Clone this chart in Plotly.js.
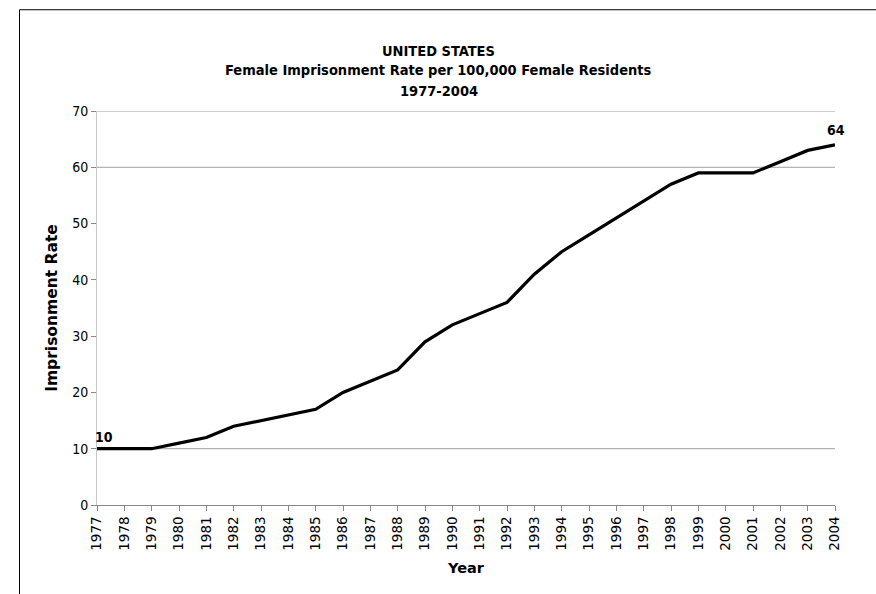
<!DOCTYPE html>
<html>
<head>
<meta charset="utf-8">
<script src="https://cdn.plot.ly/plotly-3.0.1.min.js"></script>
<style>html,body{margin:0;padding:0;background:#fff;}#chart{width:876px;height:594px;}</style>
</head>
<body>
<div id="chart"></div>
<script>
const years = [1977,1978,1979,1980,1981,1982,1983,1984,1985,1986,1987,1988,1989,1990,1991,1992,1993,1994,1995,1996,1997,1998,1999,2000,2001,2002,2003,2004];
const rates = [10,10,10,11,12,14,15,16,17,20,22,24,29,32,34,36,41,45,48,51,54,57,59,59,59,61,63,64];
const yTicks = [0,10,20,30,40,50,60,70];
const gridValues = [10,60,70];
const titleLines = ['UNITED STATES', 'Female Imprisonment Rate per 100,000 Female Residents', '1977-2004'];

const fontC = 'DejaVu Sans Condensed, DejaVu Sans, Verdana, sans-serif';
const fontR = 'DejaVu Sans, Verdana, sans-serif';

const shapes = gridValues.map(v => ({
  type: 'line', xref: 'paper', x0: 0, x1: 1, yref: 'y', y0: v, y1: v,
  line: {color: '#a0a0a0', width: 1}, layer: 'below'
}));
shapes.push({
  type: 'rect', xref: 'paper', yref: 'paper',
  x0: -0.105, x1: 1.1, y0: -0.3, y1: 1.257,
  line: {color: '#000', width: 1}, fillcolor: 'rgba(0,0,0,0)'
});

const n = years.length;
const annotations = [
  {x: years[0], y: rates[0], text: '<b>' + rates[0] + '</b>', showarrow: false,
   xanchor: 'left', yanchor: 'bottom', xshift: -4, yshift: 2, font: {family: fontC, size: 14, color: '#000'}},
  {x: years[n-1], y: rates[n-1], text: '<b>' + rates[n-1] + '</b>', showarrow: false,
   xanchor: 'center', yanchor: 'bottom', xshift: 1, yshift: 5, font: {family: fontC, size: 14, color: '#000'}}
];
const titleY = [1.152, 1.103, 1.050];
titleLines.forEach((t, i) => annotations.push({
  xref: 'paper', yref: 'paper', x: 0.463, y: titleY[i], xanchor: 'center', yanchor: 'middle',
  text: '<b>' + t + '</b>', showarrow: false, font: {family: fontC, size: 14.5, color: '#000'}
}));

Plotly.newPlot('chart', [{
  x: years, y: rates, type: 'scatter', mode: 'lines',
  line: {color: '#000', width: 3.2}, hoverinfo: 'skip'
}], {
  width: 876, height: 594,
  margin: {l: 97, r: 41, t: 111, b: 89},
  paper_bgcolor: '#fff', plot_bgcolor: '#fff',
  showlegend: false,
  xaxis: {
    range: [1977, 2004], tickmode: 'array', tickvals: years, ticktext: years.map(String),
    tickangle: -90, ticks: 'outside', ticklen: 5, tickcolor: '#888',
    showgrid: false, zeroline: false, showline: true, linecolor: '#888', linewidth: 1,
    tickfont: {family: fontR, size: 13.5, color: '#000'},
    title: {text: '<b>Year</b>', font: {family: fontR, size: 14.5, color: '#000'}, standoff: 13}
  },
  yaxis: {
    range: [0, 70], tickmode: 'array', tickvals: yTicks,
    ticks: 'outside', ticklen: 5, tickcolor: '#888',
    showgrid: false, zeroline: false, showline: true, linecolor: '#c8c8c8', linewidth: 1,
    tickfont: {family: fontC, size: 14, color: '#000'},
    title: {text: '<b>Imprisonment Rate</b>', font: {family: fontR, size: 15.5, color: '#000'}, standoff: 10}
  },
  shapes: shapes,
  annotations: annotations
}, {displayModeBar: false, staticPlot: true});
</script>
</body>
</html>
